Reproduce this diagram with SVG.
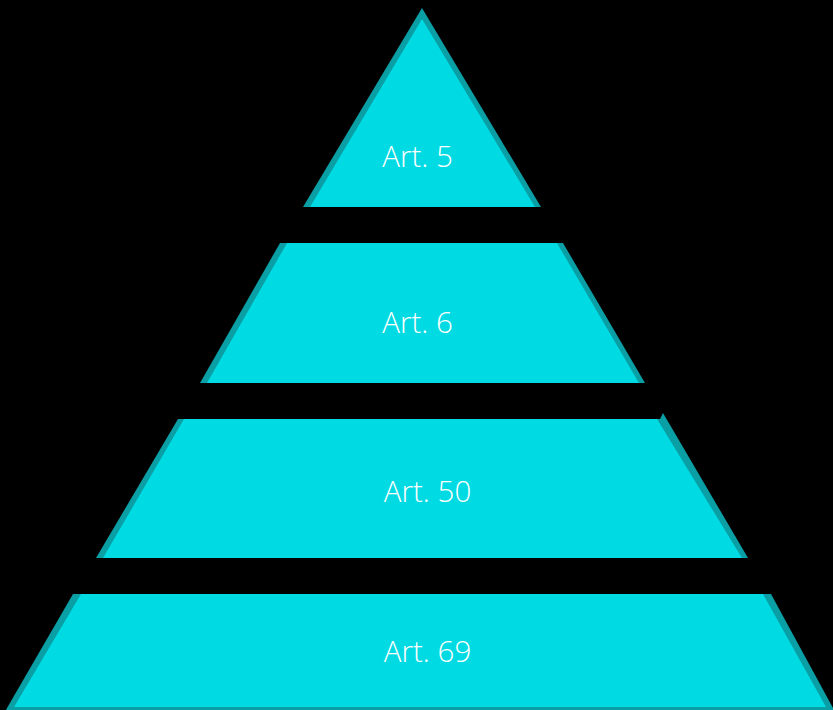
<svg xmlns="http://www.w3.org/2000/svg" width="833" height="710" viewBox="0 0 833 710">
<style>
.edge{fill:#0a9ea5}
.face{fill:#00dae3}
.lbl{font-family:"Open Sans","Noto Sans",sans-serif;font-weight:300;font-size:29.5px;fill:#ffffff;text-anchor:middle}
</style>
<rect x="0" y="0" width="833" height="710" fill="#000000"/>
<g id="tier1">
<polygon class="edge" points="422,8 541,207 303,207"/>
<polygon class="face" points="422,19 535,207 310,207"/>
<text class="lbl" x="417.5" y="167">Art. 5</text>
</g>
<g id="tier2">
<polygon class="edge" points="280,243 563,243 645,383 200,383"/>
<polygon class="face" points="287,243 557,243 639,383 207,383"/>
<text class="lbl" x="417.5" y="333">Art. 6</text>
</g>
<g id="tier3">
<polygon class="edge" points="178,419 660,419 663,413 748,558 96,558"/>
<polygon class="face" points="184,419 657,419 742,558 103,558"/>
<text class="lbl" x="427.5" y="502">Art. 50</text>
</g>
<g id="tier4">
<polygon class="edge" points="73,594 771,594 833,708 833,710 6,710 7,708"/>
<polygon class="face" points="81,594 763,594 826,707 14,707"/>
<text class="lbl" x="427.5" y="662">Art. 69</text>
</g>
<g id="connectors"/>
</svg>
